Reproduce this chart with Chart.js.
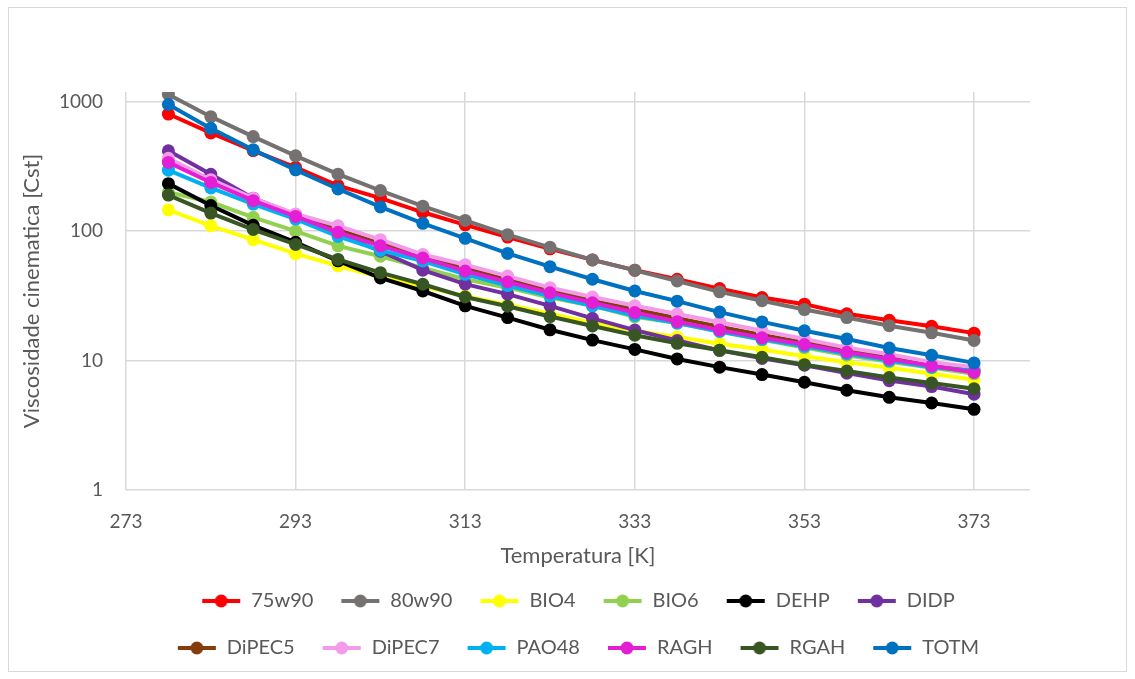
<!DOCTYPE html>
<html>
<head>
<meta charset="utf-8">
<script src="https://cdn.jsdelivr.net/npm/chart.js@4/dist/chart.umd.min.js"></script>
<style>
  html, body { margin: 0; padding: 0; background: #fff; }
  #wrap { position: relative; width: 1135px; height: 679px; }
</style>
</head>
<body>
<div id="wrap"><canvas id="chart"></canvas></div>
<script>
// temperatures [K]
const temps = [278, 283, 288, 293, 298, 303, 308, 313, 318, 323, 328, 333, 338, 343, 348, 353, 358, 363, 368, 373];

// kinematic viscosity [cSt]
const v75w90 = [804, 575, 420, 311, 225, 180, 140, 112, 90, 73, 60, 50, 42.5, 36, 30.7, 27.3, 23, 20.5, 18.4, 16.3];
const v80w90 = [1140, 767, 538, 382, 276, 206, 156, 121, 94, 75, 60, 49.8, 41.2, 34, 29, 24.8, 21.5, 18.6, 16.4, 14.3];
const vBIO4 = [146, 110, 86, 67, 54, 44, 37.5, 31.5, 27, 23, 19.5, 17, 15.2, 13.5, 12.2, 10.8, 9.7, 8.8, 7.9, 7.1];
const vBIO6 = [200, 168, 128, 100, 77, 64, 52, 42.5, 36.6, 30.7, 26.5, 21.8, 19.5, 16.8, 14.5, 12.6, 11, 9.8, 8.8, 7.9];
const vDEHP = [233, 158, 111, 82, 59, 43.5, 34.5, 26.5, 21.5, 17.3, 14.4, 12.2, 10.3, 8.9, 7.8, 6.8, 5.9, 5.2, 4.7, 4.2];
const vDIDP = [418, 275, 180, 134, 96, 70, 50, 39, 32.6, 26.5, 21.2, 17.2, 14.3, 12, 10.4, 9.2, 8.0, 7.0, 6.3, 5.5];
const vDiPEC5 = [350, 245, 178, 133, 103, 80, 65, 52, 42, 35, 29, 25, 21.3, 18.3, 15.8, 13.8, 12, 10.7, 9.4, 8.4];
const vDiPEC7 = [366, 250, 180, 136, 110, 86, 66, 55, 45, 36.6, 31, 26.5, 22.9, 19.8, 17, 14.7, 12.6, 11.2, 9.7, 8.9];
const vPAO48 = [296, 216, 162, 124, 91, 71, 58.8, 46.4, 38, 31.5, 26.5, 22.3, 19.5, 16.8, 14.6, 12.9, 11.3, 10, 8.9, 8.3];
const vRAGH = [340, 238, 172, 130, 98, 77, 62, 49.2, 40.5, 33.4, 28, 23.5, 20, 17.2, 15, 13.3, 11.6, 10.3, 9.1, 8.1];
const vRGAH = [190, 138, 103, 79, 60.5, 47.8, 38.9, 31, 26.3, 21.9, 18.5, 15.7, 13.6, 12.0, 10.6, 9.3, 8.3, 7.4, 6.7, 6.05];
const vTOTM = [953, 623, 425, 298, 212, 154, 115, 88, 67.3, 53.2, 42.5, 34.5, 28.8, 23.7, 19.9, 17, 14.7, 12.5, 11, 9.6];

const seriesNames = ['75w90', '80w90', 'BIO4', 'BIO6', 'DEHP', 'DIDP', 'DiPEC5', 'DiPEC7', 'PAO48', 'RAGH', 'RGAH', 'TOTM'];
const seriesValues = [v75w90, v80w90, vBIO4, vBIO6, vDEHP, vDIDP, vDiPEC5, vDiPEC7, vPAO48, vRAGH, vRGAH, vTOTM];
const seriesColors = ['#ff0000', '#767171', '#ffff00', '#92d050', '#000000', '#7030a0',
                      '#843c0c', '#f39be9', '#00b0f0', '#e31fd6', '#375623', '#0070c0'];

const xTicks = [273, 293, 313, 333, 353, 373];
const yTicks = [1, 10, 100, 1000];

const textColor = '#595959';
const gridColor = '#d9d9d9';
const fontFamily = 'Lato, "Noto Sans", sans-serif';

// legend marker: short line with a dot, like the spreadsheet legend
function legendMarker(color) {
    const c = document.createElement('canvas');
    c.width = 40;
    c.height = 14;
    const g = c.getContext('2d');
    g.strokeStyle = color;
    g.lineWidth = 4;
    g.beginPath();
    g.moveTo(1, 7);
    g.lineTo(39, 7);
    g.stroke();
    g.fillStyle = color;
    g.beginPath();
    g.arc(20, 7, 6.5, 0, Math.PI * 2);
    g.fill();
    return c;
}

// later series are painted on top, so hand them to Chart.js in reverse
const datasets = seriesNames.map((name, i) => ({
    label: name,
    data: temps.map((t, j) => ({ x: t, y: seriesValues[i][j] })),
    borderColor: seriesColors[i],
    backgroundColor: seriesColors[i],
    pointBackgroundColor: seriesColors[i],
    pointBorderColor: seriesColors[i],
    borderWidth: 4,
    pointRadius: 6.5,
    pointBorderWidth: 0,
    tension: 0,
    fill: false
})).reverse();

const frame = {
    id: 'frame',
    beforeDraw(chart) {
        const ctx = chart.ctx;
        ctx.save();
        ctx.fillStyle = '#ffffff';
        ctx.fillRect(0, 0, chart.width, chart.height);
        ctx.strokeStyle = gridColor;
        ctx.lineWidth = 1;
        ctx.strokeRect(8.5, 7.5, chart.width - 17, chart.height - 15);
        ctx.restore();
    }
};

new Chart(document.getElementById('chart'), {
    type: 'line',
    data: { datasets },
    plugins: [frame],
    options: {
        responsive: true,
        maintainAspectRatio: false,
        animation: false,
        layout: { padding: { left: 9, right: 105, top: 92, bottom: 11 } },
        scales: {
            x: {
                type: 'linear',
                min: 273,
                max: 379.6,
                afterBuildTicks: (scale) => { scale.ticks = xTicks.map(v => ({ value: v })); },
                afterFit: (scale) => { scale.height = 74; },
                grid: { color: gridColor, lineWidth: 1.5, drawTicks: false },
                border: { display: false },
                ticks: {
                    color: textColor,
                    padding: 20,
                    font: { family: fontFamily, size: 19 },
                    callback: (v) => String(v)
                },
                title: {
                    display: true,
                    text: 'Temperatura [K]',
                    color: textColor,
                    font: { family: fontFamily, size: 22 },
                    padding: { top: 0, bottom: -5 }
                }
            },
            y: {
                type: 'logarithmic',
                min: 1,
                max: 1190,
                afterBuildTicks: (scale) => { scale.ticks = yTicks.map(v => ({ value: v })); },
                afterFit: (scale) => { scale.width = 117; },
                grid: { color: gridColor, lineWidth: 1.5, drawTicks: false },
                border: { display: false },
                ticks: {
                    color: textColor,
                    padding: 23,
                    font: { family: fontFamily, size: 19 },
                    callback: (v) => String(v)
                },
                title: {
                    display: true,
                    text: 'Viscosidade cinematica [Cst]',
                    color: textColor,
                    font: { family: fontFamily, size: 22 },
                    padding: { top: 10, bottom: 0 }
                }
            }
        },
        plugins: {
            legend: {
                position: 'bottom',
                fullSize: false,
                reverse: true,
                labels: {
                    color: textColor,
                    font: { family: fontFamily, size: 20 },
                    usePointStyle: true,
                    pointStyleWidth: 40,
                    padding: 27,
                    generateLabels: (chart) => {
                        const items = Chart.defaults.plugins.legend.labels.generateLabels(chart);
                        return items.map(item => {
                            item.pointStyle = legendMarker(item.strokeStyle);
                            return item;
                        });
                    }
                }
            },
            tooltip: { enabled: false }
        }
    }
});
</script>
</body>
</html>
